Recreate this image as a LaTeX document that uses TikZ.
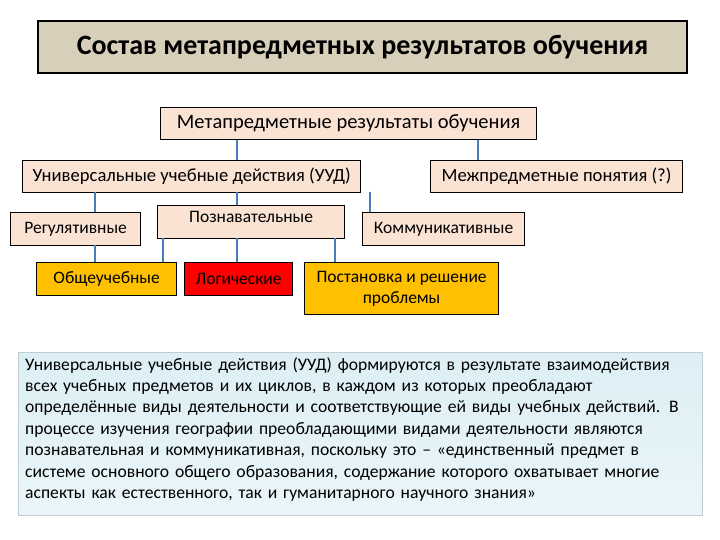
\documentclass[tikz,border=0pt]{standalone}
\usepackage{fontspec}
\setmainfont{Carlito}
\begin{document}
\begin{tikzpicture}[x=1pt,y=-1pt,
 bx/.style={draw=black,line width=1.2pt,fill=#1,inner sep=0pt,anchor=north west},
 ln/.style={draw=lnc,line width=1.5pt}]
\definecolor{pch}{HTML}{FBE3D4}
\definecolor{org}{HTML}{FFC000}
\definecolor{tex}{HTML}{D8CFBA}
\definecolor{lb}{HTML}{DCEFF5}
\definecolor{lnc}{HTML}{4A7EBB}
\useasboundingbox (0,0) rectangle (720,540);
\fill[white] (0,0) rectangle (720,540);
\node[bx=tex,line width=2pt,minimum width=649pt,minimum height=52pt,font=\fontsize{28}{30}\selectfont\bfseries] (t) at (37,20) {Состав метапредметных результатов обучения};
\node[bx=pch,minimum width=376pt,minimum height=32pt,font=\fontsize{20.5}{22}\selectfont] (m) at (160,107) {Метапредметные результаты обучения};
\node[bx=pch,minimum width=338pt,minimum height=32pt,font=\fontsize{18.6}{21}\selectfont] (u) at (22,160) {Универсальные учебные действия (УУД)};
\node[bx=pch,minimum width=252pt,minimum height=32pt,font=\fontsize{18.6}{21}\selectfont] (mp) at (430,160) {Межпредметные понятия (?)};
\node[bx=pch,minimum width=130pt,minimum height=33pt,font=\fontsize{17.5}{20}\selectfont] (r) at (10,212) {Регулятивные};
\node[bx=pch,minimum width=187pt,minimum height=33pt,font=\fontsize{17.5}{20}\selectfont,text depth=10pt] (p) at (157,205) {Познавательные};
\node[bx=pch,minimum width=162pt,minimum height=33pt,font=\fontsize{17.5}{20}\selectfont] (k) at (362,212) {Коммуникативные};
\node[bx=org,minimum width=140pt,minimum height=33pt,font=\fontsize{17.5}{20}\selectfont] (o) at (36,262) {Общеучебные};
\node[bx=red,minimum width=108pt,minimum height=33pt,font=\fontsize{17.5}{20}\selectfont] (l) at (184,262) {Логические};
\node[bx=org,minimum width=194pt,minimum height=52pt,font=\fontsize{17.5}{21}\selectfont,align=center] (ps) at (304,262) {Постановка и решение\\проблемы};
\draw[ln] (237,140) -- (237,160);
\draw[ln] (478,140) -- (478,160);
\draw[ln] (95,192) -- (95,212);
\draw[ln] (237,192) -- (237,205);
\draw[ln] (370,192) -- (370,212);
\draw[ln] (95,245) -- (95,262);
\draw[ln] (163,238) -- (163,262);
\draw[ln] (237,238) -- (237,262);
\draw[ln] (335,238) -- (335,262);
\node[draw=lb!70!gray,line width=0.8pt,top color=lb,bottom color=lb!60!white,minimum width=684pt,minimum height=163pt,anchor=north west,inner sep=0pt] (b) at (18,352) {};
\node[anchor=north west,text width=680pt,align=left,font=\fontsize{17.6}{21.4}\selectfont,inner sep=0pt] (bt) at (25,357) {Универсальные учебные действия (УУД) формируются в результате взаимодействия\\ всех учебных предметов и их циклов, в каждом из которых преобладают\\ определённые виды деятельности и соответствующие ей виды учебных действий. В\\ процессе изучения географии преобладающими видами деятельности являются\\ познавательная и коммуникативная, поскольку это – «единственный предмет в\\ системе основного общего образования, содержание которого охватывает многие\\ аспекты как естественного, так и гуманитарного научного знания»};
\end{tikzpicture}
\end{document}
